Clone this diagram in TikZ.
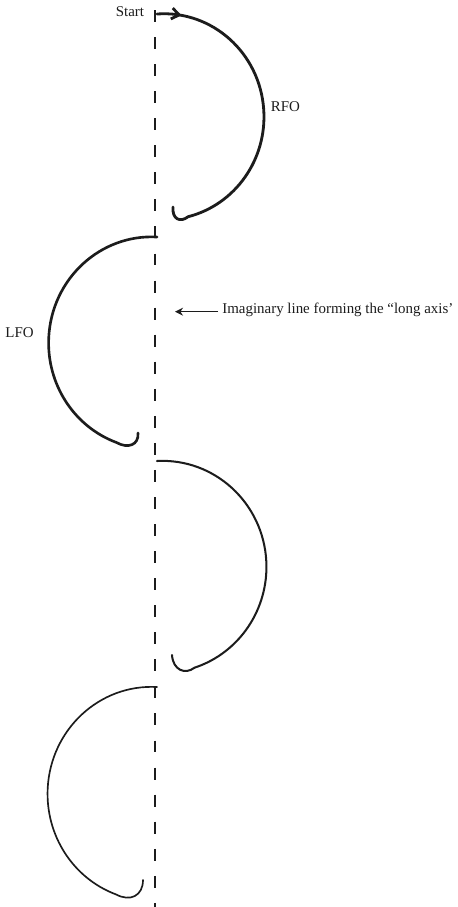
\documentclass[tikz,border=0pt]{standalone}
\usepackage{fontspec}
\setmainfont{Liberation Serif}
\usepackage{tikz}
\usetikzlibrary{arrows.meta,decorations.markings}
\definecolor{PKink}{RGB}{28,28,28}
\tikzset{
  axisline/.style={draw=PKink,line width=1.1pt,dash pattern=on 6.8pt off 8.6pt},
  edgepath/.style={draw=PKink,line cap=round},
  lbl/.style={font=\fontsize{8.5}{10}\selectfont,text=PKink,inner sep=0pt},
  pointer/.style={-{Stealth[length=1.6mm,width=1.6mm]},line width=0.8pt,draw=PKink},
  startmark/.style={postaction={decorate},
    decoration={markings,mark=at position 14pt with {\arrow{Straight Barb[length=1.5mm,width=2.2mm]}}}}
}

\begin{document}
\begin{tikzpicture}[x=0.02cm,y=-0.02cm]
  \useasboundingbox (0,0) rectangle (457,907);
  \coordinate (axistop) at (155,10);
  \coordinate (axisbot) at (155,907);
  \coordinate (axistip) at (175,311.7);
  \draw[axisline] (axistop) -- (axisbot);
  \node[lbl,anchor=base] (start) at (130,16) {Start};
  \node[lbl,anchor=base] (rfo) at (285.5,111) {RFO};
  \node[lbl,anchor=base] (lfo) at (19.5,337) {LFO};
  \node[lbl,anchor=base west] (axisnote) at (222,313.3) {Imaginary line forming the ``long axis'};
  \draw[pointer] (axisnote.west |- axistip) ++(-4,0) -- (axistip);
  \draw[edgepath,line width=1.6pt,startmark] (157,14)
    arc[start angle=-94,end angle=76,x radius=100,y radius=103]
    .. controls (180,223) and (172,219) .. (173,207);
  \draw[edgepath,line width=1.5pt] (157,237)
    arc[start angle=-87,end angle=-250,x radius=103,y radius=106]
    .. controls (128,449) and (139,445) .. (138,433);
  \draw[edgepath,line width=1.15pt] (157,461)
    arc[start angle=-93,end angle=72,x radius=104,y radius=106]
    .. controls (185,675) and (173,670) .. (172,655);
  \draw[edgepath,line width=0.95pt] (157,687)
    arc[start angle=-87,end angle=-250,x radius=104,y radius=107]
    .. controls (130,902) and (143,896) .. (143,880);
\end{tikzpicture}
\end{document}
